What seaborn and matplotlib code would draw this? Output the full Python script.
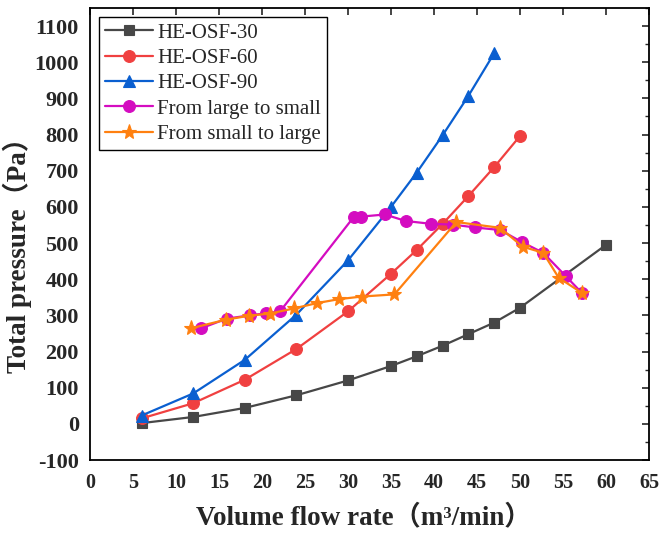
import matplotlib
matplotlib.use("Agg")
import matplotlib.pyplot as plt
from matplotlib.ticker import MultipleLocator
import seaborn as sns
import pandas as pd

# ---- data ----
x_osf = [6, 12, 18, 24, 30, 35, 38, 41, 44, 47, 50, 60]
y_osf30 = [2, 19, 44, 79, 120, 160, 187, 216, 248, 280, 321, 495]
x_osf60 = [6, 12, 18, 24, 30, 35, 38, 41, 44, 47, 50]
y_osf60 = [15, 57, 122, 207, 311, 415, 481, 553, 630, 710, 796]
x_osf90 = [6, 12, 18, 24, 30, 35, 38, 41, 44, 47]
y_osf90 = [23, 84, 177, 302, 452, 600, 695, 798, 907, 1025]
x_l2s = [12.9, 15.9, 18.6, 20.5, 22.1, 30.7, 31.5, 34.3, 36.7, 39.7, 42.2, 44.8, 47.7, 50.2, 52.7, 55.3, 57.2]
y_l2s = [264, 291, 300, 306, 311, 573, 573, 579, 561, 553, 551, 543, 536, 503, 473, 409, 362]
x_s2l = [11.7, 15.8, 18.5, 20.9, 23.7, 26.4, 29.0, 31.6, 35.4, 42.6, 47.7, 50.3, 52.7, 54.5, 57.2]
y_s2l = [264, 288, 299, 305, 319, 334, 345, 352, 358, 558, 542, 490, 473, 404, 362]

labels = ["HE-OSF-30", "HE-OSF-60", "HE-OSF-90", "From large to small", "From small to large"]
xs = [x_osf, x_osf60, x_osf90, x_l2s, x_s2l]
ys = [y_osf30, y_osf60, y_osf90, y_l2s, y_s2l]
colors = ["#474747", "#f04040", "#0a5fd0", "#d40cc0", "#ff8010"]
markers = ["s", "o", "^", "o", "*"]
msizes = [7.5, 8.5, 9, 8.5, 11]

sns.set_style("white")
plt.rcParams["font.family"] = ["Liberation Serif", "Noto Sans CJK SC", "DejaVu Sans"]
plt.rcParams["axes.unicode_minus"] = False

fig = plt.figure(figsize=(6.62, 5.34), dpi=100)
ax = fig.add_axes([90 / 662, 74 / 534, (649 - 90) / 662, (460 - 8) / 534])

for xv, yv, lab, c, m, ms in zip(xs, ys, labels, colors, markers, msizes):
    df = pd.DataFrame({"x": xv, "y": yv})
    sns.lineplot(data=df, x="x", y="y", ax=ax, color=c, marker=m, markersize=ms,
                 markeredgecolor=c, markeredgewidth=0.8, linewidth=1.6,
                 label=lab, sort=False, estimator=None)

ax.set_xlim(0, 65)
ax.set_ylim(-100, 1150)
ax.xaxis.set_major_locator(MultipleLocator(5))
ax.xaxis.set_minor_locator(MultipleLocator(2.5))
ax.yaxis.set_major_locator(MultipleLocator(100))
ax.yaxis.set_minor_locator(MultipleLocator(50))
ax.set_yticks(range(-100, 1101, 100))

ax.tick_params(axis="both", which="major", direction="in", length=5, width=1.2,
               top=True, right=True)
ax.tick_params(axis="x", which="major", labelsize=14.5, pad=9)
ax.tick_params(axis="y", which="major", labelsize=16, pad=8)
ax.tick_params(axis="both", which="minor", direction="in", length=3, width=1.0,
               top=False, right=True)
for lab in ax.get_xticklabels() + ax.get_yticklabels():
    lab.set_fontweight("bold")

for s in ax.spines.values():
    s.set_linewidth(1.3)
    s.set_color("black")

ax.set_xlabel("Volume flow rate（m³/min）", fontsize=19.5, fontweight="bold")
ax.set_ylabel("Total pressure（Pa）", fontsize=19.5, fontweight="bold")
ax.xaxis.set_label_coords(0.49, -0.097)
ax.yaxis.set_label_coords(-0.103, 0.468)

leg = ax.legend(loc="upper left", bbox_to_anchor=(0.008, 0.99), fontsize=15,
                frameon=True, fancybox=False, edgecolor="black", framealpha=1,
                handlelength=2.3, handletextpad=0.2, borderpad=0.3, labelspacing=0.28,
                borderaxespad=0.2)
leg.get_frame().set_linewidth(1.0)

fig.savefig("out.png", dpi=100)
